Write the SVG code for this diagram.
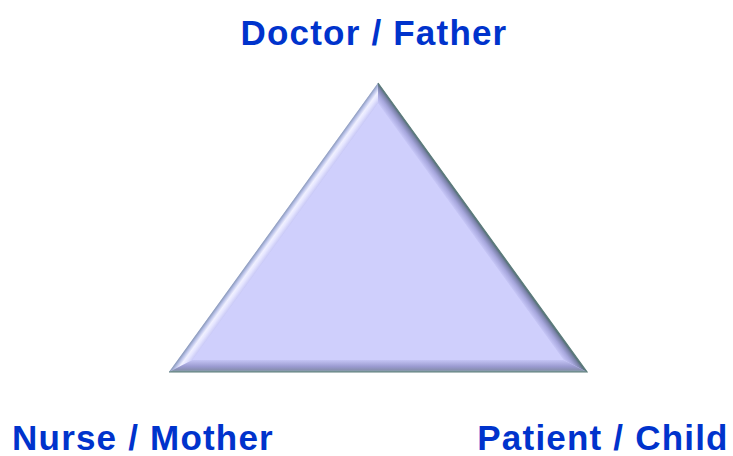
<svg xmlns="http://www.w3.org/2000/svg" width="733" height="456" viewBox="0 0 733 456">
<style>
.lbl{font-family:"Liberation Sans",Arial,sans-serif;font-weight:bold;font-size:35px;letter-spacing:1.2px;fill:#0033cc}
</style>
<defs>
<linearGradient id="gl" gradientUnits="userSpaceOnUse" x1="279.7" y1="219" x2="289.4" y2="226">
<stop offset="0" stop-color="#8a9ab8"/>
<stop offset="0.2" stop-color="#b8c0e8"/>
<stop offset="0.45" stop-color="#f0f0ff"/>
<stop offset="0.65" stop-color="#e6e6ff"/>
<stop offset="1" stop-color="#c8c8f6"/>
</linearGradient>
<linearGradient id="gr" gradientUnits="userSpaceOnUse" x1="466.6" y1="226" x2="476.3" y2="219">
<stop offset="0" stop-color="#c8c8f8"/>
<stop offset="0.45" stop-color="#a6a6dc"/>
<stop offset="0.8" stop-color="#7a82a8"/>
<stop offset="1" stop-color="#4e6e6c"/>
</linearGradient>
<linearGradient id="gb" gradientUnits="userSpaceOnUse" x1="0" y1="360" x2="0" y2="372">
<stop offset="0" stop-color="#c4c4f4"/>
<stop offset="0.55" stop-color="#9a9ad0"/>
<stop offset="0.8" stop-color="#8a90b4"/>
<stop offset="1" stop-color="#86a6a4"/>
</linearGradient>
</defs>
<g id="triangle">
<polygon points="378,83 169,372 587,372" fill="#cfcffc"/>
<polygon points="378,83 169,372 192.5,360 378,103.5" fill="url(#gl)"/>
<polygon points="378,83 378,103.5 563.5,360 587,372" fill="url(#gr)"/>
<polygon points="169,372 192.5,360 563.5,360 587,372" fill="url(#gb)"/>
<polygon points="378,103.5 192.5,360 563.5,360" fill="#cfcffc"/>
<polyline points="378,83 587,372 169,372" fill="none" stroke="#5c7c7a" stroke-width="1.2"/>
</g>
<g id="doctor"><text class="lbl" x="374" y="45" text-anchor="middle">Doctor / Father</text></g>
<g id="nurse"><text class="lbl" x="143" y="450" text-anchor="middle">Nurse / Mother</text></g>
<g id="patient"><text class="lbl" x="603" y="450" text-anchor="middle">Patient / Child</text></g>
<g id="connectors"/>
</svg>
